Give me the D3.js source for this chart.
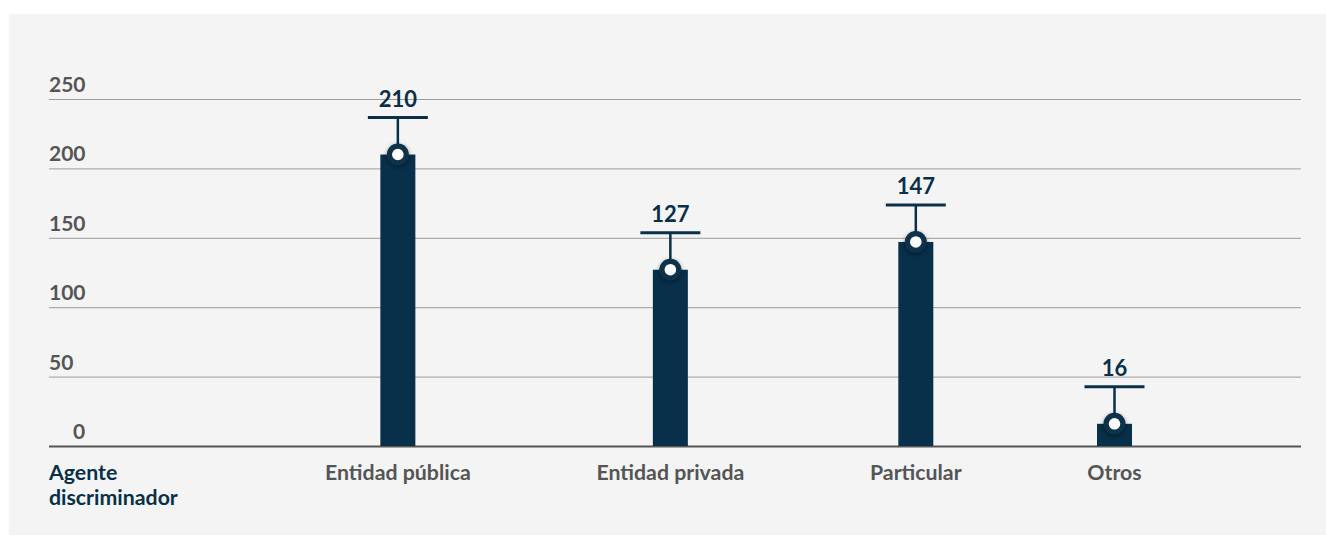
<!DOCTYPE html>
<html>
<head>
<meta charset="utf-8">
<script src="https://cdn.jsdelivr.net/npm/d3@7"></script>
<style>
  html, body { margin: 0; padding: 0; background: #fff; }
  svg { display: block; font-family: Lato, "Open Sans", sans-serif; }
</style>
</head>
<body>
<svg id="chart" width="1326" height="536"></svg>
<script>
// data
const categories = ["Entidad pública", "Entidad privada", "Particular", "Otros"];
const values = [210, 127, 147, 16];
const yTicks = [0, 50, 100, 150, 200, 250];
const axisTitle = ["Agente", "discriminador"];

const dark = "#08304a";
const grey = "#555";

let svg = d3.select("#chart"),
  width = +svg.attr("width"),
  height = +svg.attr("height");

const margin = { left: 49, right: 25, top: 99, bottom: 90 };
const plotRight = width - margin.right;

// panel
svg.append("rect")
  .attr("x", 9).attr("y", 14)
  .attr("width", width - 9).attr("height", height - 15)
  .attr("fill", "#f4f4f4");

const defs = svg.append("defs");
defs.append("filter")
  .attr("id", "shadow")
  .attr("x", "-60%").attr("y", "-60%")
  .attr("width", "220%").attr("height", "220%")
  .append("feDropShadow")
  .attr("dx", 0).attr("dy", 1.5)
  .attr("stdDeviation", 2.2)
  .attr("flood-color", "#000")
  .attr("flood-opacity", 0.45);

const y = d3.scaleLinear()
  .domain([0, 250])
  .range([height - margin.bottom, margin.top]);

// grid + tick labels
const grid = svg.append("g").attr("class", "grid");
grid.selectAll("line")
  .data(yTicks)
  .enter()
  .append("line")
  .attr("x1", margin.left).attr("x2", plotRight)
  .attr("y1", d => y(d) + 0.5).attr("y2", d => y(d) + 0.5)
  .attr("stroke", d => d === 0 ? "#555" : "#9c9c9c")
  .attr("stroke-width", d => d === 0 ? 2 : 1);

grid.selectAll("text")
  .data(yTicks)
  .enter()
  .append("text")
  .attr("x", d => d === 0 ? margin.left + 24 : margin.left)
  .attr("y", d => y(d) - 7)
  .attr("fill", grey)
  .attr("font-weight", "bold")
  .attr("font-size", 21)
  .text(d => d);

// axis title
const labelY = y(0) + 34;
svg.append("text")
  .attr("x", margin.left)
  .attr("y", labelY)
  .attr("fill", dark)
  .attr("font-weight", "bold")
  .attr("font-size", 21.3)
  .selectAll("tspan")
  .data(axisTitle)
  .enter()
  .append("tspan")
  .attr("x", margin.left)
  .attr("dy", (d, i) => i === 0 ? 0 : 24.5)
  .text(d => d);

// category labels laid out in a row: first column holds the axis title,
// then each label follows with a constant gap
const titleCol = 276, gap = 125.7;
const catLabels = svg.append("g").attr("class", "cats")
  .selectAll("text")
  .data(categories)
  .enter()
  .append("text")
  .attr("y", labelY)
  .attr("fill", grey)
  .attr("font-weight", "bold")
  .attr("font-size", 21.3)
  .attr("text-anchor", "middle")
  .text(d => d);

let cursor = margin.left + titleCol;
const centers = [];
catLabels.each(function () {
  const w = this.getComputedTextLength();
  centers.push(cursor + w / 2);
  cursor += w + gap;
});
catLabels.attr("x", (d, i) => centers[i]);

const x = d3.scaleOrdinal().domain(categories).range(centers);

const data = categories.map((c, i) => ({ cat: c, value: values[i] }));
const barW = 35, capW = 60, capGap = 37;

// bars
svg.append("g").attr("class", "bars")
  .selectAll("rect")
  .data(data)
  .enter()
  .append("rect")
  .attr("x", d => x(d.cat) - barW / 2)
  .attr("y", d => y(d.value))
  .attr("width", barW)
  .attr("height", d => y(0) - y(d.value))
  .attr("fill", dark);

// markers
const mk = svg.append("g").attr("class", "markers")
  .selectAll("g")
  .data(data)
  .enter()
  .append("g")
  .attr("transform", d => "translate(" + x(d.cat) + "," + y(d.value) + ")");

mk.append("line")
  .attr("x1", 0).attr("x2", 0)
  .attr("y1", 0).attr("y2", -capGap)
  .attr("stroke", dark).attr("stroke-width", 2.5);

mk.append("line")
  .attr("x1", -capW / 2).attr("x2", capW / 2)
  .attr("y1", -capGap).attr("y2", -capGap)
  .attr("stroke", dark).attr("stroke-width", 3);

mk.append("circle")
  .attr("r", 11)
  .attr("fill", dark)
  .attr("filter", "url(#shadow)");

mk.append("circle")
  .attr("r", 5.8)
  .attr("fill", "#fff");

mk.append("text")
  .attr("y", -capGap - 11)
  .attr("text-anchor", "middle")
  .attr("fill", dark)
  .attr("font-weight", "bold")
  .attr("font-size", 22)
  .text(d => d.value);
</script>
</body>
</html>
